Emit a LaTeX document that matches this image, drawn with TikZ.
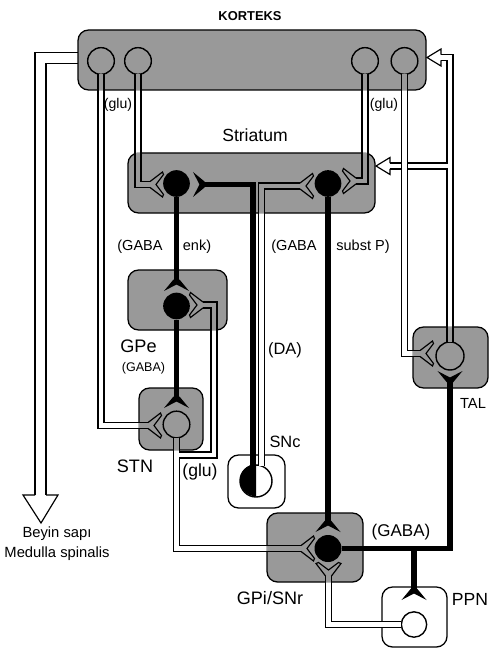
\documentclass[tikz,border=0pt]{standalone}
\usepackage{fontspec}
\setmainfont{Liberation Sans}
\usetikzlibrary{fit}

\definecolor{boxgray}{gray}{0.6}

% tube = two thin walls: black band, light core (grey inside the boxes)
\newcommand\tube[1]{%
  \draw[wall] #1;
  \draw[core] #1;
  \begin{scope}
    \clip[rounded corners=9pt] (korteks.south west) rectangle (korteks.north east)
      (striatum.south west) rectangle (striatum.north east)
      (gpe.south west) rectangle (gpe.north east)
      (stn.south west) rectangle (stn.north east)
      (gpi.south west) rectangle (gpi.north east)
      (tal.south west) rectangle (tal.north east);
    \draw[core, boxgray] #1;
  \end{scope}}

\tikzset{
  box/.style={draw, fill=boxgray, rounded corners=9pt, inner sep=0pt, line width=1.1pt},
  wbox/.style={box, fill=white},
  cell/.style={circle, draw, line width=1.2pt, minimum size=0.8cm, inner sep=0pt},
  dot/.style={circle, fill=black, minimum size=0.8cm, inner sep=0pt},
  wall/.style={line width=6.2pt, black},
  core/.style={line width=3.9pt, white},
  inhib/.style={line width=5pt},
  fsize/.style={font=\fontsize{#1}{#1}\selectfont, inner sep=0pt},
  exc/.pic={\draw[line width=1pt] (0,2.95) -- (12.5,12.5) -- (13.5,10) -- (6,0) -- (13.5,-10) -- (12.5,-12.5) -- (0,-2.95);},
  inh/.pic={\fill (-0.5,3) -- (11,12.5) -- (4.5,0) -- (11,-12.5) -- (-0.5,-3) -- cycle;},
  opn/.pic={\draw[line width=1pt] (0,2.95) -- (0,8.5) -- (14,0) -- (0,-8.5) -- (0,-2.95);},
}

\begin{document}
\begin{tikzpicture}[x=0.03cm, y=-0.03cm, line join=miter]
\useasboundingbox (0,0) rectangle (489,651);

% output to brainstem, under the cortex box
\coordinate (kout) at (79,58);
\coordinate (out) at (40.5,495);
\draw[wall, line width=10.5pt] (kout) -| (out);
\draw[core, line width=8.3pt] (kout) -| (out);
\draw[line width=1pt] (35,495) -- (23,495) -- (41,523) -- (58,495) -- (46,495);

% regions
\node[box, fit={(78,30) (426,90)}] (korteks) {};
\node[box, fit={(128,153) (375,213)}] (striatum) {};
\node[box, fit={(128,270) (227,330)}] (gpe) {};
\node[box, fit={(139,388) (203,450)}] (stn) {};
\node[wbox, fit={(228,455) (285,508)}] (snc) {};
\node[box, fit={(267,513) (363,582)}] (gpi) {};
\node[box, fit={(413,327) (488,388)}] (tal) {};
\node[wbox, fit={(382,587) (447,647)}] (ppn) {};

% neurons
\node[cell] (k1) at (101,61) {};
\node[cell] (k2) at (138,61) {};
\node[cell] (k3) at (365,61) {};
\node[cell] (k4) at (404.5,61) {};
\node[dot] (st1) at (176.5,183.5) {};
\node[dot] (st2) at (328,183.5) {};
\node[dot] (ge1) at (176.5,306) {};
\node[cell] (sn1) at (176.5,424.5) {};
\node[cell, fill=white, minimum size=0.96cm] (da1) at (256,481) {};
\fill (da1.north) arc[start angle=-90, end angle=-270, radius=16] -- cycle;
\node[dot, minimum size=0.81cm] (gi1) at (328,548.5) {};
\node[cell, minimum size=0.84cm] (ta1) at (450,356) {};
\node[cell, fill=white, minimum size=0.76cm] (pp1) at (414,624.5) {};

% synapse points
\coordinate (kin) at (441,57.5);
\coordinate (sin) at (390,166);
\coordinate (tain) at (420,353.5);
\coordinate (st2r) at (356,181);
\coordinate (st1l) at (150,184.5);
\coordinate (sn1l) at (148,425.5);
\coordinate (bend) at (214,455);
\coordinate (gi1l) at (301,548.5);
\coordinate (ge1r) at (203,305);
\coordinate (st2l) at (300,186);
\coordinate (gi1b) at (328.5,576);
\coordinate (ge1t) at (176.5,280);
\coordinate (sn1t) at (176.5,397);
\coordinate (gi1t) at (328,521);
\coordinate (st1r) at (204,184.5);
\coordinate (ta1b) at (450,382);
\coordinate (pp1t) at (414,589);

% excitatory (glu) pathways
\tube{([yshift=-0.7pt]ta1.north) |- (kin) (ta1 |- sin) -- (sin)}
\pic[rotate=180] at (kin) {opn};
\pic[rotate=180] at (sin) {opn};
\tube{([yshift=0.7pt]k4.south) |- (tain)}
\pic at (tain) {exc};
\tube{([yshift=0.7pt]k3.south) |- (st2r)}
\pic[rotate=180] at (st2r) {exc};
\tube{([yshift=0.7pt]k2.south) |- (st1l)}
\pic at (st1l) {exc};
\tube{([yshift=0.7pt]k1.south) |- (sn1l)}
\pic at (sn1l) {exc};
\tube{([yshift=0.7pt]sn1.south) |- (gi1l) (sn1 |- bend) -- (bend) |- (ge1r)}
\pic at (gi1l) {exc};
\pic[rotate=180] at (ge1r) {exc};
\tube{([yshift=-0.7pt]da1.70) |- (st2l)}
\pic at (st2l) {exc};
\tube{([xshift=0.7pt]pp1.west) -| (gi1b)}
\pic[rotate=90] at (gi1b) {exc};

% inhibitory (GABA) and DA pathways
\draw[inhib] (st1) -- (ge1t);
\pic[rotate=-90] at (ge1t) {inh};
\draw[inhib] (ge1) -- (sn1t);
\pic[rotate=-90] at (sn1t) {inh};
\draw[inhib] (st2) -- (gi1t);
\pic[rotate=-90] at (gi1t) {inh};
\draw[inhib] ([xshift=-2.6pt]da1.center) |- (st1r);
\pic[rotate=180] at (st1r) {inh};
\draw[inhib] (gi1) -| (ta1b);
\pic[rotate=90] at (ta1b) {inh};
\draw[inhib] (gi1 -| pp1t) -- (pp1t);
\pic[rotate=-90] at (pp1t) {inh};

% labels
\node[fsize=11] (tkor) at (250,16) {\textbf{KORTEKS}};
\node[fsize=12] (tglu1) at (118,105) {(glu)};
\node[fsize=12] (tglu2) at (384,105) {(glu)};
\node[fsize=15] (tstr) at (255,135) {Striatum};
\node[fsize=12.4] (tgaba1) at (140,247) {(GABA};
\node[fsize=12.4] (tenk) at (197,247) {enk)};
\node[fsize=12.4] (tgaba2) at (294,247) {(GABA};
\node[fsize=12.4] (tsub) at (363,247) {subst P)};
\node[fsize=15.5] (tgpe) at (138.5,346) {GPe};
\node[fsize=10.7] (tgaba3) at (143.5,368) {(GABA)};
\node[fsize=14] (tda) at (285,350) {(DA)};
\node[fsize=15.4] (tstn) at (135,466) {STN};
\node[fsize=15] (tglu3) at (200,471.5) {(glu)};
\node[fsize=14] (tsnc) at (285,442) {SNc};
\node[fsize=12.5] (ttal) at (473,403) {TAL};
\node[fsize=14.5] (tgaba4) at (401,532) {(GABA)};
\node[fsize=15.4] (tgpi) at (270,598) {GPi/SNr};
\node[fsize=15] (tppn) at (470,599) {PPN};
\node[font=\fontsize{12.6}{17}\selectfont, align=center, inner sep=0pt] (tout) at (57,544) {Beyin sapı\\Medulla spinalis};
\end{tikzpicture}
\end{document}
